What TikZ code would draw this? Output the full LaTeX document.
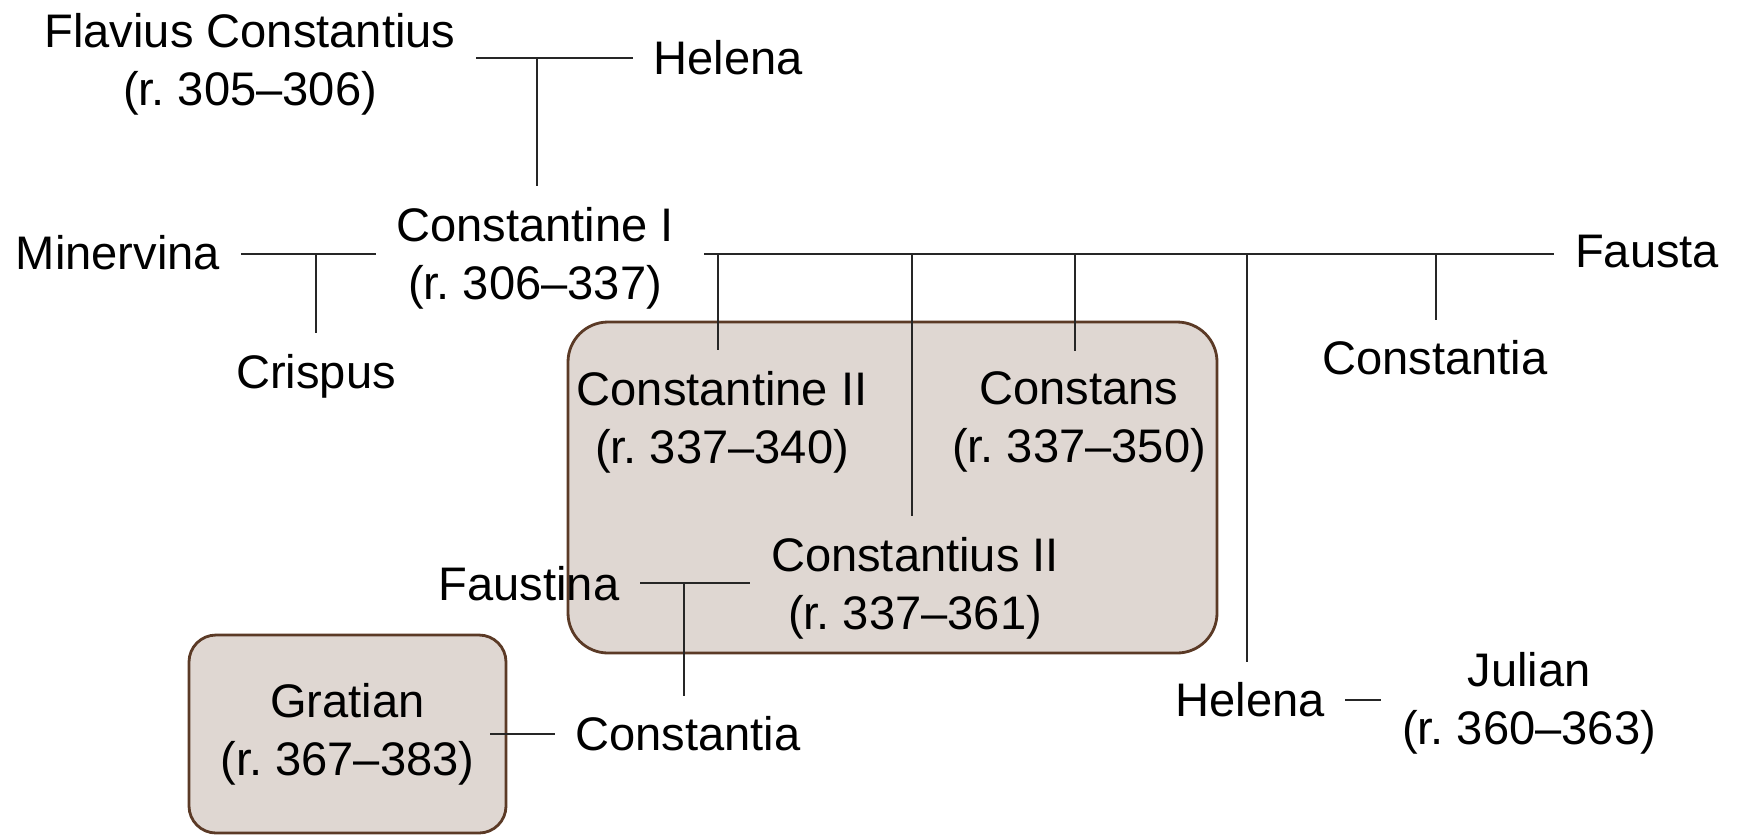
\documentclass[tikz,border=0pt]{standalone}
\usepackage{fontspec}
\setmainfont{Liberation Sans}
\usepackage{xcolor}
\usepackage{tikz}

\definecolor{boxfill}{HTML}{DFD7D2}
\definecolor{boxline}{HTML}{5B3A26}

\tikzset{
  person/.style={inner sep=0.2cm, align=center, font=\fontsize{13.4pt}{16.5pt}\selectfont},
  rule/.style={draw=black!85, line width=0.5pt},
  groupbox/.style={draw=boxline, fill=boxfill, line width=0.8pt, rounded corners=0.4cm},
  smallbox/.style={draw=boxline, fill=boxfill, line width=0.8pt, rounded corners=0.27cm}
}

\begin{document}
\begin{tikzpicture}
\useasboundingbox (0,0) rectangle (17.39,-8.34);
% the three sons who reigned together
\draw[groupbox] (5.68,-3.22) rectangle (12.17,-6.53);

\node (fc)   at ( 2.50,-0.64) [person] {Flavius Constantius\\(r.\ 305--306)};
\node (hel1) at ( 7.28,-0.58) [person] {Helena};
\node (min)  at ( 1.18,-2.53) [person] {Minervina};
\node (c1)   at ( 5.35,-2.58) [person] {Constantine I\\(r.\ 306--337)};
\node (fau)  at (16.47,-2.52) [person] {Fausta};
\node (cri)  at ( 3.16,-3.76) [person] {Crispus};
\node (c2)   at ( 7.22,-4.22) [person] {Constantine II\\(r.\ 337--340)};
\node (cns)  at (10.79,-4.22) [person] {Constans\\(r.\ 337--350)};
\node (cta1) at (14.35,-3.58) [person] {Constantia};
\node (cs2)  at ( 9.15,-5.88) [person] {Constantius II\\(r.\ 337--361)};
\node (fst)  at ( 5.29,-5.84) [person] {Faustina};
\node (cta2) at ( 6.88,-7.34) [person] {Constantia};
\node (gra)  at ( 3.475,-7.34) [person,smallbox,minimum width=3.17cm,minimum height=1.98cm] {Gratian\\(r.\ 367--383)};
\node (hel2) at (12.50,-7.00) [person] {Helena};
\node (jul)  at (15.29,-7.03) [person] {Julian\\(r.\ 360--363)};

\coordinate (m1) at ( 5.37,-0.58);
\coordinate (m2) at ( 3.16,-2.54);
\coordinate (d0) at ( 7.04,-2.54);
\coordinate (d1) at ( 7.18,-2.54);
\coordinate (d2) at ( 9.12,-2.54);
\coordinate (d3) at (10.75,-2.54);
\coordinate (d4) at (12.47,-2.54);
\coordinate (d5) at (14.36,-2.54);
\coordinate (m4) at ( 6.84,-5.83);

\draw[rule] (fc.east |- m1) -- (hel1.west |- m1);
\draw[rule] (m1) -- (m1 |- c1.north);
\draw[rule] (min.east |- m2) -- (c1.west |- m2);
\draw[rule] (m2) -- (m2 |- cri.north);
\draw[rule] (d0) -- (fau.west |- d0);
\draw[rule] (d1) -- (d1 |- c2.north);
\draw[rule] (d2) -- (d2 |- cs2.north);
\draw[rule] (d3) -- (d3 |- cns.north);
\draw[rule] (d4) -- (d4 |- hel2.north);
\draw[rule] (d5) -- (d5 |- cta1.north);
\draw[rule] (fst.east |- m4) -- (cs2.west |- m4);
\draw[rule] (m4) -- (m4 |- cta2.north);
\draw[rule] ([xshift=-0.17cm]gra.east) -- (cta2.west);
\draw[rule] (hel2.east) -- (hel2.east -| jul.west);
\end{tikzpicture}
\end{document}
